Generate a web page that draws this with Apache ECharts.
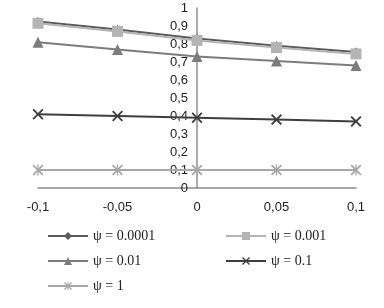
<!DOCTYPE html>
<html>
<head>
<meta charset="utf-8">
<script src="https://cdn.jsdelivr.net/npm/echarts@6/dist/echarts.min.js"></script>
<style>
  html, body { margin: 0; padding: 0; background: #fff; }
  #main { width: 384px; height: 308px; }
</style>
</head>
<body>
<div id="main"></div>
<script>
// x values of the points
var xValues = [-0.1, -0.05, 0, 0.05, 0.1];

// series values
var psi00001 = [0.925, 0.88, 0.83, 0.79, 0.755];
var psi0001 = [0.915, 0.87, 0.82, 0.78, 0.745];
var psi001 = [0.81, 0.77, 0.73, 0.705, 0.68];
var psi01 = [0.41, 0.40, 0.39, 0.38, 0.37];
var psi1 = [0.1, 0.1, 0.1, 0.1, 0.1];

var names = ['ψ = 0.0001', 'ψ = 0.001', 'ψ = 0.01', 'ψ = 0.1', 'ψ = 1'];

function pairs(ys) {
  return xValues.map(function (x, i) { return [x, ys[i]]; });
}

var crossPath = 'path://M0,0.12 L0.12,0 L0.5,0.38 L0.88,0 L1,0.12 L0.62,0.5 L1,0.88 L0.88,1 L0.5,0.62 L0.12,1 L0,0.88 L0.38,0.5 Z';
var starPath = 'path://M0,0.12 L0.12,0 L0.5,0.38 L0.88,0 L1,0.12 L0.62,0.5 L1,0.88 L0.88,1 L0.5,0.62 L0.12,1 L0,0.88 L0.38,0.5 Z M0.44,0 L0.56,0 L0.56,1 L0.44,1 Z';

function comma(v) {
  return String(v).replace('.', ',');
}

var gridLeft = 38, gridRight = 28;
var plotWidth = 384 - gridLeft - gridRight;

var myChart = echarts.init(document.getElementById('main'));

function mkSeries(name, ys, color, symbol, size) {
  return {
    name: name,
    type: 'line',
    data: pairs(ys),
    symbol: symbol,
    symbolSize: size,
    lineStyle: { color: color, width: 2 },
    itemStyle: { color: color },
    z: 3
  };
}

function mkLegend(name, left, top) {
  return {
    data: [name],
    left: left,
    top: top,
    padding: 0,
    itemWidth: 40,
    itemHeight: 10,
    itemGap: 4,
    textStyle: { fontFamily: 'Liberation Serif', fontSize: 14, color: '#222' }
  };
}

var option = {
  backgroundColor: '#fff',
  animation: false,
  grid: { left: gridLeft, right: gridRight, top: 8, bottom: 120 },
  legend: [
    mkLegend(names[0], 47, 229),
    mkLegend(names[1], 225, 229),
    mkLegend(names[2], 47, 254),
    mkLegend(names[3], 225, 254),
    mkLegend(names[4], 47, 279)
  ],
  xAxis: {
    type: 'value',
    min: -0.1,
    max: 0.1,
    interval: 0.05,
    axisLine: { lineStyle: { color: '#8c8c8c', width: 1.5 } },
    axisTick: { show: false },
    splitLine: { show: false },
    axisLabel: {
      margin: 13,
      fontFamily: 'Liberation Sans',
      fontSize: 13,
      color: '#222',
      formatter: function (v) { return comma(v); }
    }
  },
  yAxis: {
    type: 'value',
    min: 0,
    max: 1,
    interval: 0.1,
    offset: -plotWidth / 2,
    axisLine: { show: true, onZero: false, lineStyle: { color: '#8c8c8c', width: 1.5 } },
    axisTick: { show: false },
    splitLine: { show: false },
    axisLabel: {
      margin: 9,
      fontFamily: 'Liberation Sans',
      fontSize: 13,
      color: '#222',
      formatter: function (v) { return comma(Math.round(v * 10) / 10); }
    }
  },
  series: [
    mkSeries(names[0], psi00001, '#5a5a5a', 'diamond', 9),
    mkSeries(names[1], psi0001, '#b4b4b4', 'rect', 11),
    mkSeries(names[2], psi001, '#7c7c7c', 'triangle', 11),
    mkSeries(names[3], psi01, '#3e3e3e', crossPath, 11),
    mkSeries(names[4], psi1, '#a8a8a8', starPath, 11)
  ]
};

myChart.setOption(option);
</script>
</body>
</html>
